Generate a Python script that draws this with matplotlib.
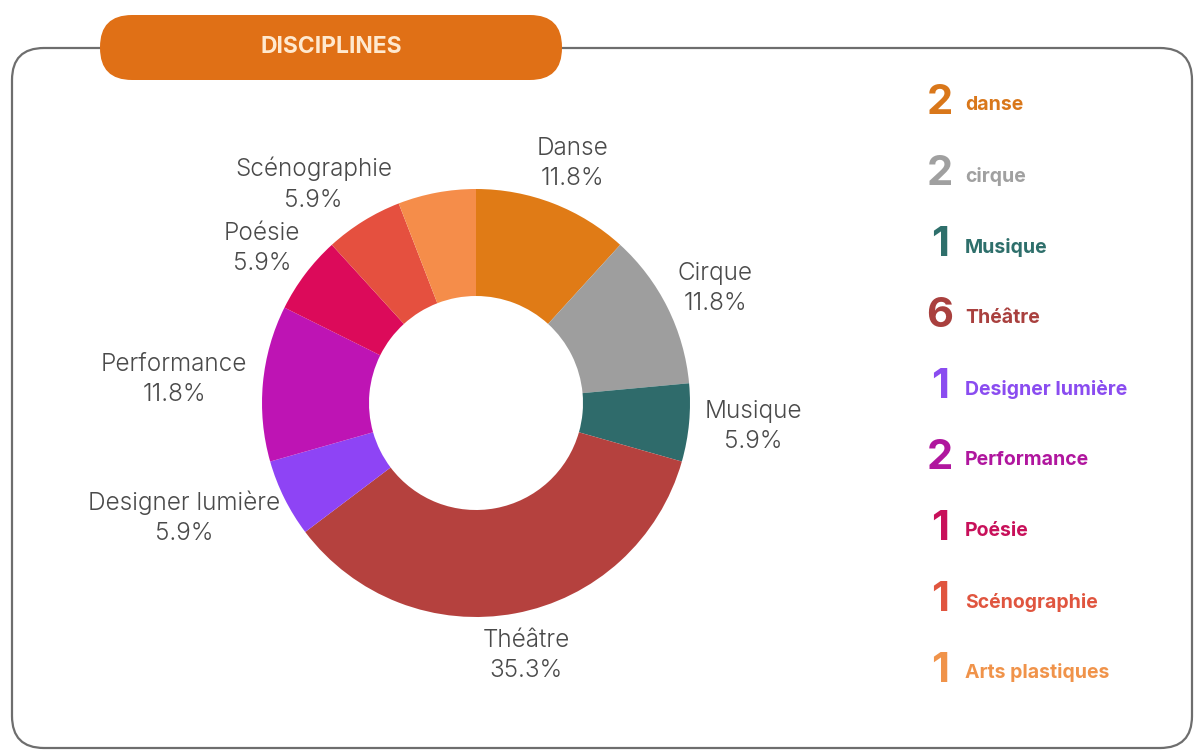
import matplotlib
matplotlib.use("Agg")
import matplotlib.pyplot as plt
from matplotlib.patches import FancyBboxPatch
import numpy as np

# data
pie_labels = ["Danse", "Cirque", "Musique", "Théâtre", "Designer lumière",
              "Performance", "Poésie", "Scénographie", "Arts plastiques"]
legend_names = ["danse", "cirque", "Musique", "Théâtre", "Designer lumière",
                "Performance", "Poésie", "Scénographie", "Arts plastiques"]
counts = [2, 2, 1, 6, 1, 2, 1, 1, 1]
show_label = [True, True, True, True, True, True, True, True, False]
slice_colors = ["#E07B16", "#9E9E9E", "#2F6B6B", "#B5413E", "#8E44F5",
                "#BE14B4", "#DC0A5A", "#E5503F", "#F58D4A"]
legend_colors = ["#D9771A", "#A0A0A0", "#2E6F6B", "#A9403E", "#8A4CF0",
                 "#B0169E", "#C8105A", "#E0553F", "#F0934A"]
title = "DISCIPLINES"

W, H = 1197, 753
fig = plt.figure(figsize=(W / 100, H / 100), dpi=100)
ax = fig.add_axes([0, 0, 1, 1])

# card frame
frame = FancyBboxPatch((12, 5), 1180, 700, boxstyle="round,pad=0,rounding_size=32",
                       fc="white", ec="#6E6E6E", lw=1.6, zorder=0)
ax.add_patch(frame)

# title pill
pill = FancyBboxPatch((100, 673), 462, 65, boxstyle="round,pad=0,rounding_size=32",
                      fc="#E07016", ec="none", zorder=2)
ax.add_patch(pill)
ax.text(331, 706, title, color="#FFE9CF", fontsize=16.5, fontweight="bold",
        ha="center", va="center", family="Inter", zorder=3)

# donut
cx, cy, R = 476, 350, 214
wedges, _ = ax.pie(counts, colors=slice_colors, startangle=90, counterclock=False,
                   center=(cx, cy), radius=R, wedgeprops=dict(width=R * 0.5, lw=0))

ax.set_xlim(0, W)
ax.set_ylim(0, H)
ax.set_aspect("equal")
ax.axis("off")

total = sum(counts)
texts = []
for w, lab, v, show in zip(wedges, pie_labels, counts, show_label):
    if not show:
        continue
    ang = np.deg2rad((w.theta1 + w.theta2) / 2)
    t = ax.text(0, 0, f"{lab}\n{v / total * 100:.1f}%", ha="center", va="center",
                fontsize=17.5, fontweight=300, color="#4A4A4A", family="Inter",
                linespacing=1.4)
    texts.append((t, ang))

fig.canvas.draw()
r = fig.canvas.get_renderer()
off = 16
for t, ang in texts:
    bb = t.get_window_extent(r)
    c, s = np.cos(ang), np.sin(ang)
    x = cx + c * (R + off) + c * bb.width / 2
    y = cy + s * (R + off) + s * bb.height / 2
    t.set_position((x, y))

# legend column
y0, step = 650, 71
for i, (name, n, col) in enumerate(zip(legend_names, counts, legend_colors)):
    y = y0 - i * step
    ax.text(940, y, str(n), color=col, fontsize=30, fontweight="bold",
            ha="center", va="center", family="Inter")
    ax.text(965, y - 2, name, color=col, fontsize=14, fontweight="bold",
            ha="left", va="center", family="Inter")

fig.savefig("out.png", dpi=100)
